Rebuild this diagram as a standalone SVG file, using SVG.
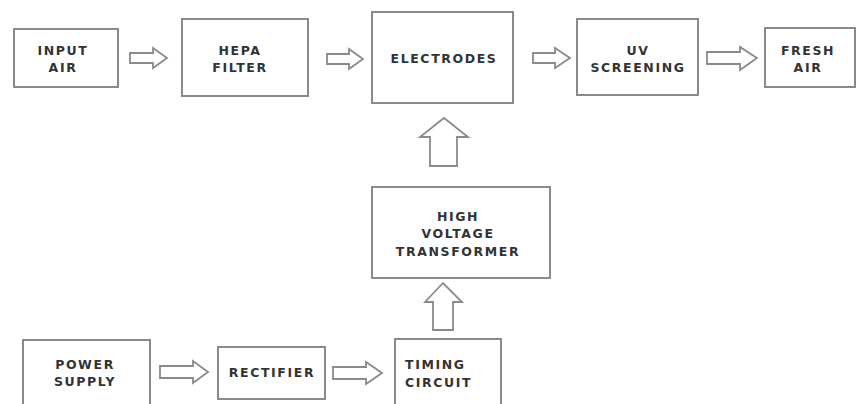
<svg xmlns="http://www.w3.org/2000/svg" width="858" height="404" viewBox="0 0 858 404">
<style>
.box{fill:#fff;stroke:#8a8a8a;stroke-width:2}
.arr{fill:#fff;stroke:#8a8a8a;stroke-width:1.8;stroke-linejoin:miter}
text{font-family:"DejaVu Sans","Liberation Sans",Arial,sans-serif;font-weight:bold;font-size:12.5px;fill:#333;text-anchor:middle;letter-spacing:1.6px}
</style>
<rect width="858" height="404" fill="#fff"/>
<g id="input_air"><rect class="box" x="14" y="29" width="104" height="58"/><text x="63" y="55">INPUT</text><text x="63" y="72">AIR</text></g>
<g id="hepa_filter"><rect class="box" x="182" y="19" width="126" height="77"/><text x="240" y="55">HEPA</text><text x="240" y="72">FILTER</text></g>
<g id="electrodes"><rect class="box" x="372" y="12" width="141" height="91"/><text x="444" y="63">ELECTRODES</text></g>
<g id="uv_screening"><rect class="box" x="577" y="19" width="121" height="76"/><text x="638" y="55">UV</text><text x="638" y="72">SCREENING</text></g>
<g id="fresh_air"><rect class="box" x="765" y="28" width="90" height="59"/><text x="808" y="55">FRESH</text><text x="808" y="72">AIR</text></g>
<g id="hv_transformer"><rect class="box" x="372" y="187" width="178" height="91"/><text x="458" y="221">HIGH</text><text x="458" y="238">VOLTAGE</text><text x="458" y="256">TRANSFORMER</text></g>
<g id="power_supply"><rect class="box" x="23" y="340" width="127" height="70"/><text x="85" y="369">POWER</text><text x="85" y="386">SUPPLY</text></g>
<g id="rectifier"><rect class="box" x="218" y="347" width="107" height="52"/><text x="272" y="377">RECTIFIER</text></g>
<g id="timing_circuit"><rect class="box" x="395" y="339" width="106" height="70"/><text x="405" y="369" style="text-anchor:start">TIMING</text><text x="405" y="387" style="text-anchor:start">CIRCUIT</text></g>
<g id="connectors">
<polygon class="arr" points="130,53 153,53 153,48 167,58 153,68 153,63 130,63"/>
<polygon class="arr" points="327,54 349,54 349,49 363,59 349,69 349,64 327,64"/>
<polygon class="arr" points="533,53 555,53 555,48 570,58 555,68 555,63 533,63"/>
<polygon class="arr" points="707,52 740,52 740,47 757,58 740,70 740,64 707,64"/>
<polygon class="arr" points="430,166 430,137 420,137 444,118 468,137 457,137 457,166"/>
<polygon class="arr" points="433,330 433,302 425,302 443,283 462,302 453,302 453,330"/>
<polygon class="arr" points="160,366 193,366 193,361 208,372 193,383 193,378 160,378"/>
<polygon class="arr" points="333,367 366,367 366,362 382,373 366,384 366,379 333,379"/>
</g>
</svg>
